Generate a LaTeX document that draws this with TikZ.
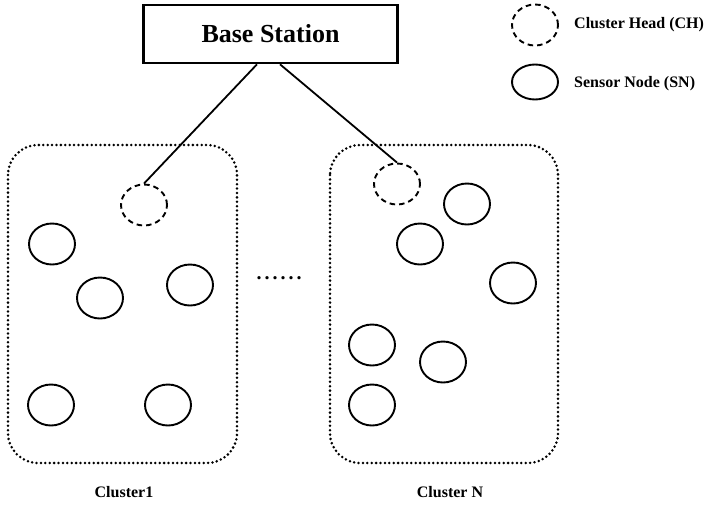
\documentclass[tikz,border=0pt]{standalone}
\usepackage{fontspec}
\setmainfont{Liberation Serif}
\usetikzlibrary{shapes.geometric}
\begin{document}
\begin{tikzpicture}[x=1pt,y=-1pt,
  sensor/.style={draw,line width=1.9pt,ellipse,minimum width=46pt,minimum height=41pt,inner sep=0pt},
  head/.style={sensor,dash pattern=on 5.5pt off 4pt},
  cluster/.style={draw,line width=2.8pt,dash pattern=on 0pt off 4.4pt,line cap=round,rounded corners=30pt},
  lbl/.style={font=\bfseries\fontsize{16}{18}\selectfont,anchor=west,inner sep=0pt},
  clustertitle/.style={font=\bfseries\fontsize{16}{18}\selectfont,inner sep=0pt},
  link/.style={line width=1.8pt}]
\useasboundingbox (0,0) rectangle (711,506);
% base station
\node[draw,line width=2.6pt,minimum width=254pt,minimum height=58pt,inner sep=0pt,
  font=\bfseries\fontsize{26}{30}\selectfont] (bs) at (270.5,34) {Base Station};
% legend
\node[head] (lgh) at (535,25) {};
\node[lbl] (lght) at (574,25) {Cluster Head (CH)};
\node[sensor,minimum height=35pt] (lgs) at (535,82) {};
\node[lbl] (lgst) at (574,84) {Sensor Node (SN)};
% cluster regions
\draw[cluster] (8,145) rectangle (237,463);
\draw[cluster] (330,145) rectangle (558,463);
\node[clustertitle] (c1) at (124,492) {Cluster1};
\node[clustertitle] (cn) at (450,492) {Cluster N};
\node[font=\bfseries\fontsize{20}{22}\selectfont\addfontfeature{LetterSpace=15},inner sep=0pt] (dots) at (279,278) {......};
% cluster 1
\node[head] (h1) at (144,205) {};
\node[sensor] (a1) at (52,244) {};
\node[sensor] (a2) at (100,298) {};
\node[sensor] (a3) at (190,285) {};
\node[sensor] (a4) at (51,405) {};
\node[sensor] (a5) at (168,405) {};
% cluster N
\node[head] (hn) at (397,184) {};
\node[sensor] (b1) at (467,204) {};
\node[sensor] (b2) at (420,244) {};
\node[sensor] (b3) at (513,283) {};
\node[sensor] (b4) at (372,345) {};
\node[sensor] (b5) at (443,362) {};
\node[sensor] (b6) at (372,405) {};
% links to the base station
\draw[link] (bs.south -| 257,0) -- (h1.north);
\draw[link] (bs.south -| 280,0) -- (hn.north);
\end{tikzpicture}
\end{document}
